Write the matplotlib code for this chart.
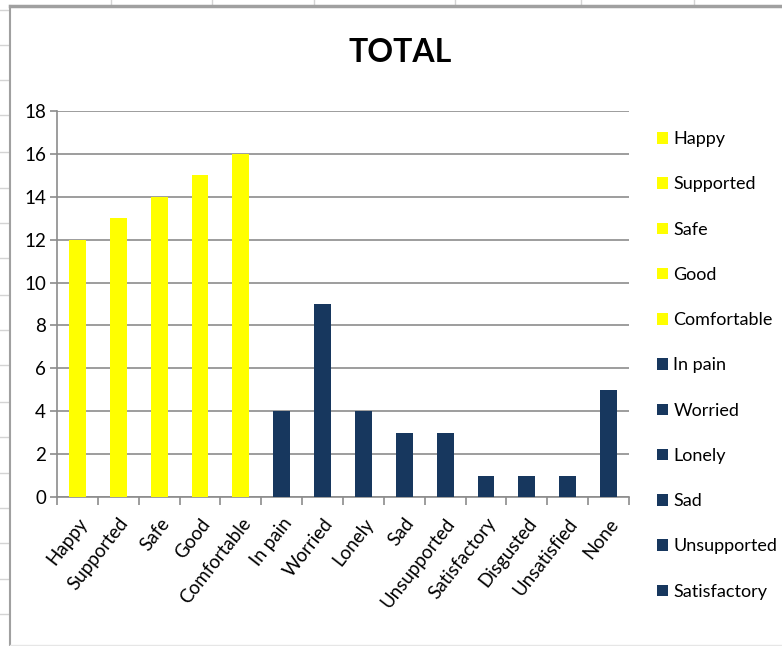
import matplotlib
matplotlib.use("Agg")
import matplotlib.pyplot as plt
from matplotlib.lines import Line2D

# Survey responses: how people felt
feelings = ["Happy", "Supported", "Safe", "Good", "Comfortable",
            "In pain", "Worried", "Lonely", "Sad", "Unsupported",
            "Satisfactory", "Disgusted", "Unsatisfied", "None"]
counts = [12, 13, 14, 15, 16, 4, 9, 4, 3, 3, 1, 1, 1, 5]
positive = ["Happy", "Supported", "Safe", "Good", "Comfortable"]

YELLOW = "#FFFF00"
NAVY = "#17375E"
GRID = "#8C8C8C"

plt.rcParams['font.family'] = ['Lato', 'DejaVu Sans']

fig = plt.figure(figsize=(7.82, 6.46), dpi=100)
W, H = 782, 646

# spreadsheet cells behind the chart object
for x in [111, 212, 314, 455, 581, 694]:
    fig.add_artist(Line2D([x / W, x / W], [1 - 5 / H, 1], color="#d4d4d4", lw=1))
for y in [10, 45, 80, 115, 152, 188, 223, 258, 295, 330, 365, 402, 437, 473, 508, 543, 579, 614]:
    fig.add_artist(Line2D([0, 9 / W], [1 - y / H, 1 - y / H], color="#d4d4d4", lw=1))

# chart frame
fig.add_artist(Line2D([9.5 / W, 9.5 / W], [0, 1 - 6 / H], color="#a0a0a0", lw=1.5))
fig.add_artist(Line2D([9.5 / W, 1], [1 - 6 / H, 1 - 6 / H], color="#a0a0a0", lw=2.5))
fig.add_artist(Line2D([9.5 / W, 1], [1.5 / H, 1.5 / H], color="#e6e6e6", lw=1))

ax = fig.add_axes([57 / W, 149 / H, 572 / W, 386 / H])

x = range(len(feelings))
for i, (name, val) in enumerate(zip(feelings, counts)):
    color = YELLOW if name in positive else NAVY
    ax.bar(i, val, width=0.41, color=color, label=name, zorder=3)

ax.set_xlim(-0.5, len(feelings) - 0.5)
ax.set_ylim(0, 18)
ax.set_yticks(range(0, 19, 2))
ax.yaxis.grid(True, color=GRID, lw=1.2, zorder=0)

for side in ["top", "right"]:
    ax.spines[side].set_visible(False)
for side in ["left", "bottom"]:
    ax.spines[side].set_color(GRID)
    ax.spines[side].set_linewidth(1.2)

ax.tick_params(axis="y", length=5, width=1.2, color=GRID, labelsize=13.5, pad=3)
ax.set_xticks(list(x))
ax.set_xticklabels(feelings, rotation=52, ha="right", rotation_mode="anchor",
                   fontsize=13.5)
ax.tick_params(axis="x", length=0, pad=13)
# category separators below the axis
ax.set_xticks([i - 0.5 for i in range(len(feelings) + 1)], minor=True)
ax.tick_params(axis="x", which="minor", length=6, width=1.2, color=GRID)

fig.text(400 / W, 1 - 53 / H, "TOTAL", ha="center", va="center",
         fontsize=23, fontweight="bold")

handles, labels = ax.get_legend_handles_labels()
leg = fig.legend(handles[:11], labels[:11], loc="upper left",
                 bbox_to_anchor=(650 / W, 1 - 124 / H), frameon=False,
                 fontsize=13, handlelength=0.6, handleheight=0.6,
                 handletextpad=0.3, labelspacing=1.62, borderaxespad=0)

fig.savefig("out.png", dpi=100)
